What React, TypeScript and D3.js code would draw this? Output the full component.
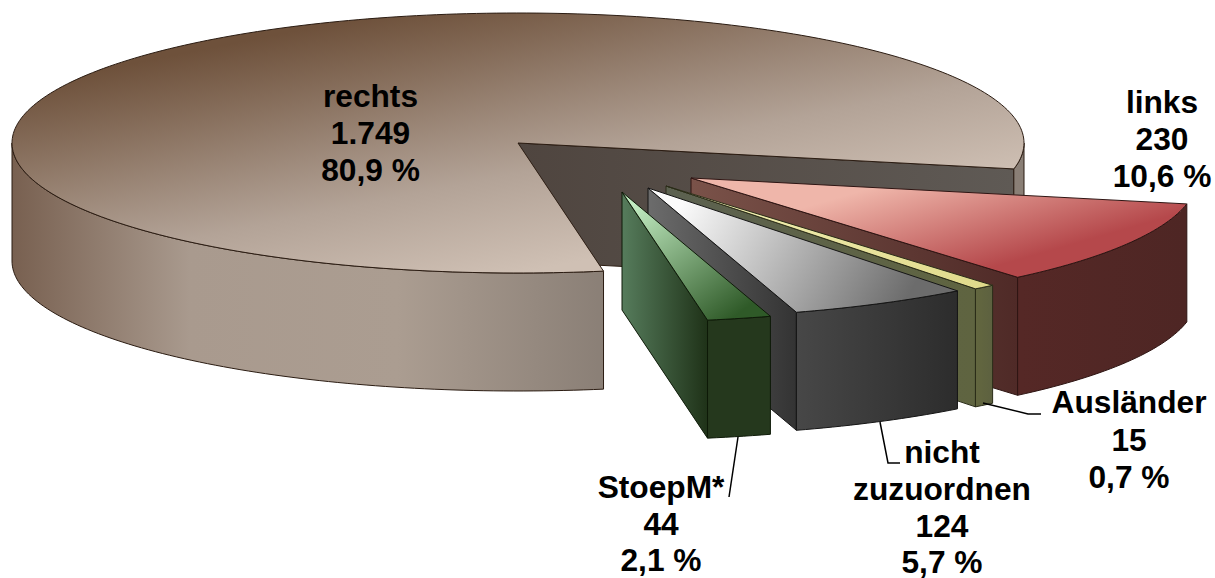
import React from "react";
import * as d3 from "d3";

// ---- data ----
const categories = ["links", "Ausländer", "nicht zuzuordnen", "StoepM*", "rechts"];
const counts = [230, 15, 124, 44, 1749];

// label blocks
const labelLines = [
  ["links", "230", "10,6 %"],
  ["Ausländer", "15", "0,7 %"],
  ["nicht", "zuzuordnen", "124", "5,7 %"],
  ["StoepM*", "44", "2,1 %"],
  ["rechts", "1.749", "80,9 %"],
];

// ---- layout ----
const W = 1215;
const H = 578;
const CX = 518;
const CY = 143;
const RX = 506;
const RY = 130;
const DEPTH = 118;
const START_DEG = 11.5;
const explode: [number, number][] = [
  [173, 35],
  [148, 43],
  [130, 45],
  [104, 49],
  [0, 0],
];
const labelX = [1162, 1129, 942, 661, 370.5];
const labelY = [
  [113, 150, 187],
  [413, 451, 488],
  [463, 500, 537, 573],
  [498, 535, 571],
  [107, 144, 181],
];
const leaders: [number, number][][] = [
  [],
  [[983, 403], [1028, 414], [1041, 414]],
  [[880, 422], [888, 463], [900, 463]],
  [[738, 437], [729, 497]],
  [],
];

type Sk = {
  top: string[];
  stops: number[];
  topV: [number, number, number, number];
  side: [string, string, string?];
  sideX: [number, number];
  wall: [string, string];
  stroke: string;
};
const skins: Sk[] = [
  {
    top: ["#efb6aa", "#b5484b"],
    stops: [0, 1],
    topV: [900, 180, 930, 285],
    side: ["#552826", "#4e2624"],
    sideX: [1021, 1184],
    wall: ["#7a5249", "#4f2a27"],
    stroke: "#2e1513",
  },
  {
    top: ["#f5f2b8", "#dfd98a"],
    stops: [0, 1],
    topV: [680, 190, 990, 285],
    side: ["#62663f", "#5c6040"],
    sideX: [978, 995],
    wall: ["#5c6150", "#5f6440"],
    stroke: "#2a2c18",
  },
  {
    top: ["#fbfbfb", "#6c6c6c"],
    stops: [0, 1],
    topV: [690, 190, 900, 310],
    side: ["#474747", "#2c2c2c"],
    sideX: [798, 960],
    wall: ["#6c6c6c", "#333333"],
    stroke: "#151515",
  },
  {
    top: ["#c2ecc2", "#2f5a28"],
    stops: [0, 1],
    topV: [640, 200, 730, 320],
    side: ["#25381d", "#25381d"],
    sideX: [710, 773],
    wall: ["#567c5c", "#1f3218"],
    stroke: "#0e1a08",
  },
  {
    top: ["#6e513b", "#b3a397", "#cfc0b4"],
    stops: [0, 0.65, 1],
    topV: [200, 50, 255, 326],
    side: ["#786050", "#a99a8e", "#8a7f76"],
    sideX: [12, 605],
    wall: ["#4f453f", "#5f5a55"],
    stroke: "#2b1c12",
  },
];

const pieGen = d3
  .pie<number>()
  .sort(null)
  .startAngle((START_DEG * Math.PI) / 180)
  .endAngle((START_DEG * Math.PI) / 180 + 2 * Math.PI);
const arcs = pieGen(counts);

const xScale = d3.scaleLinear().domain([-1, 1]).range([CX - RX, CX + RX]);
const yScale = d3.scaleLinear().domain([-1, 1]).range([CY - RY, CY + RY]);
const lineGen = d3.line<[number, number]>();

function arcPts(a0: number, a1: number, dx: number, dy: number): [number, number][] {
  const n = Math.max(2, Math.ceil((a1 - a0) / 0.02));
  return d3.range(n + 1).map((i) => {
    const a = a0 + ((a1 - a0) * i) / n;
    return [xScale(Math.cos(a)) + dx, yScale(Math.sin(a)) + dy] as [number, number];
  });
}

function visibleRanges(a0: number, a1: number): [number, number][] {
  const out: [number, number][] = [];
  for (let k = 0; k < 3; k++) {
    const lo = Math.max(a0, 2 * Math.PI * k);
    const hi = Math.min(a1, Math.PI + 2 * Math.PI * k);
    if (hi > lo) out.push([lo, hi]);
  }
  return out;
}

const order = [4, 0, 1, 2, 3];

export default function App() {
  return (
    <svg
      width={W}
      height={H}
      viewBox={`0 0 ${W} ${H}`}
      style={{ position: "absolute", left: 0, top: 0, display: "block", background: "#fff" }}
    >
      <defs>
        {skins.map((s, i) => (
          <React.Fragment key={i}>
            <linearGradient
              id={`top${i}`}
              gradientUnits="userSpaceOnUse"
              x1={s.topV[0]}
              y1={s.topV[1]}
              x2={s.topV[2]}
              y2={s.topV[3]}
            >
              {s.top.map((c, k) => (
                <stop key={k} offset={s.stops[k]} stopColor={c} />
              ))}
            </linearGradient>
            <linearGradient id={`side${i}`} gradientUnits="userSpaceOnUse" x1={s.sideX[0]} y1={0} x2={s.sideX[1]} y2={0}>
              {s.side[2] ? (
                <>
                  <stop offset="0" stopColor={s.side[0]} />
                  <stop offset="0.3" stopColor={s.side[1]} />
                  <stop offset="0.65" stopColor="#ab9d91" />
                  <stop offset="1" stopColor={s.side[2]} />
                </>
              ) : (
                <>
                  <stop offset="0" stopColor={s.side[0]} />
                  <stop offset="1" stopColor={s.side[1]} />
                </>
              )}
            </linearGradient>
          </React.Fragment>
        ))}
        {arcs.map((a, i) => {
          const [dx] = explode[i];
          const x0 = CX + dx;
          const x1 = xScale(Math.cos(a.endAngle)) + dx;
          return (
            <linearGradient key={i} id={`wall${i}`} gradientUnits="userSpaceOnUse" x1={x0} y1={0} x2={x1} y2={0}>
              <stop offset="0" stopColor={skins[i].wall[0]} />
              <stop offset="1" stopColor={skins[i].wall[1]} />
            </linearGradient>
          );
        })}
      </defs>

      {order.map((i) => {
        const a = arcs[i];
        const [dx, dy] = explode[i];
        const s = skins[i];
        const apex: [number, number] = [CX + dx, CY + dy];
        const rim = arcPts(a.startAngle, a.endAngle, dx, dy);
        const end = rim[rim.length - 1];
        const wall: [number, number][] = [
          apex,
          end,
          [end[0], end[1] + DEPTH],
          [apex[0], apex[1] + DEPTH],
        ];
        const ranges = visibleRanges(a.startAngle, a.endAngle);
        return (
          <g key={categories[i]} strokeWidth={1} stroke={s.stroke} strokeLinejoin="round">
            <path d={lineGen(wall) + "Z"} fill={`url(#wall${i})`} />
            {ranges.map(([lo, hi], k) => {
              const t = arcPts(lo, hi, dx, dy);
              const b = arcPts(lo, hi, dx, dy + DEPTH).reverse();
              return <path key={k} d={lineGen([...t, ...b]) + "Z"} fill={`url(#side${i})`} />;
            })}
            <path d={lineGen([apex, ...rim]) + "Z"} fill={`url(#top${i})`} />
          </g>
        );
      })}

      {leaders.map((pts, i) =>
        pts.length ? (
          <path key={i} d={lineGen(pts) ?? ""} fill="none" stroke="#000" strokeWidth={1.5} />
        ) : null
      )}

      <g
        fontFamily="'Liberation Sans', Arial, sans-serif"
        fontWeight="bold"
        fontSize={31.7}
        textAnchor="middle"
        fill="#000"
      >
        {labelLines.map((lines, i) =>
          lines.map((t, j) => (
            <text key={`${i}-${j}`} x={labelX[i]} y={labelY[i][j]}>
              {t}
            </text>
          ))
        )}
      </g>
    </svg>
  );
}
